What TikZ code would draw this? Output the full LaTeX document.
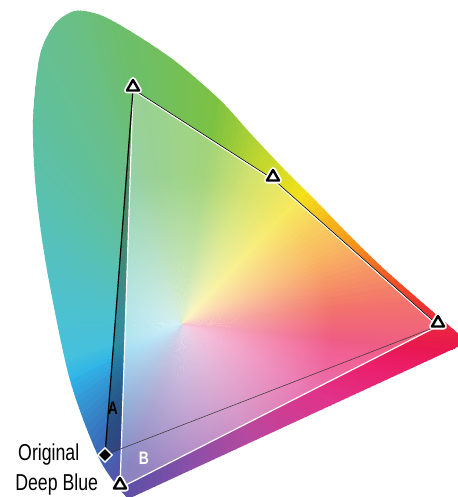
\documentclass[tikz,border=0pt]{standalone}
\usepackage{fontspec}
\setmainfont{Liberation Sans}
\newfontfamily\narrowfont[FakeStretch=0.77]{Liberation Sans}
\usetikzlibrary{shapes.geometric,fadings,positioning}

\definecolor{hcrimson}{HTML}{E8174F}
\definecolor{hrose}{HTML}{EC1E6A}
\definecolor{hpink}{HTML}{E0338A}
\definecolor{hmagenta}{HTML}{B8489E}
\definecolor{hviolet}{HTML}{8A4FA8}
\definecolor{hindigo}{HTML}{5A4FA6}
\definecolor{hblue}{HTML}{3A6CB8}
\definecolor{hsky}{HTML}{2FB5E8}
\definecolor{hcyan}{HTML}{45C0DD}
\definecolor{haqua}{HTML}{52C1C6}
\definecolor{hteal}{HTML}{58C1B4}
\definecolor{hsea}{HTML}{5EC0A2}
\definecolor{hmint}{HTML}{6ABF86}
\definecolor{hleaf}{HTML}{6DBE6A}
\definecolor{hgreen}{HTML}{7CC242}
\definecolor{hlime}{HTML}{BFD630}
\definecolor{hyellow}{HTML}{F4E11A}
\definecolor{horange}{HTML}{F7941D}
\definecolor{hred}{HTML}{EE3A2B}

\tikzfading[name=glow, inner color=transparent!0, outer color=transparent!100]

\begin{document}
\begin{tikzpicture}[x=1pt, y=-1pt,
    tri/.style={regular polygon, regular polygon sides=3, draw=black, fill=white,
        line width=2.4pt, line join=round, minimum size=14pt, inner sep=0pt,
        preaction={draw=white, line width=6pt}},
    dia/.style={diamond, draw=white, fill=black, line width=1.4pt,
        minimum size=15pt, inner sep=0pt},
    lbl/.style={font=\narrowfont\fontsize{23}{26}\selectfont},
    tag/.style={font=\narrowfont\bfseries\fontsize{18}{20}\selectfont, inner sep=0pt}]
    \useasboundingbox (0,0) rectangle (457,497);

    \coordinate (w) at (182,324);
    \coordinate (g) at (133,90);
    \coordinate (m) at (273,180);
    \coordinate (r) at (438,326);
    \coordinate (db) at (120,488);
    \coordinate (o) at (105,455);
    \coordinate (ia) at (intersection of o--r and db--g);

    \begin{scope}
        \clip plot[smooth] coordinates {(128,499) (100,460) (70,380) (47,270) (36,190)
            (33,120) (40,55) (55,24) (75,11) (100,15) (130,31) (175,61) (220,100)
            (250,133) (283,168) (317,202) (350,236) (383,268) (417,298) (468,342)} -- cycle;
        % abanico de colores alrededor del punto blanco
        \foreach \a/\c [remember=\a as \pa (initially 5), remember=\c as \pc (initially hcrimson)]
            in {5/hcrimson, 11/hrose, 26/hpink, 57/hmagenta, 86/hviolet, 109/hindigo,
                123/hblue, 153/hsky, 163/hcyan, 199/haqua, 218/hteal, 232/hsea,
                250/hmint, 258/hleaf, 278/hgreen, 294/hlime, 312/hyellow,
                334/horange, 353/hred, 365/hcrimson} {
            \foreach \i in {0,...,11} {
                \pgfmathsetmacro\s{\pa+(\a-\pa)*\i/12}
                \pgfmathsetmacro\e{\pa+(\a-\pa)*(\i+1)/12+0.4}
                \pgfmathtruncatemacro\p{100*\i/12}
                \fill[\c!\p!\pc] (w) -- +(\s:700) -- +(\e:700) -- cycle;
            }
        }
        \fill[black, fill opacity=.28] (o) -- (g) -- (ia) -- cycle;
        \begin{scope}
            \clip (db) -- (g) -- (m) -- (r) -- cycle;
            \fill[white, fill opacity=.3] (db) -- (g) -- (m) -- (r) -- cycle;
            \fill[white, fill opacity=.65, path fading=glow] (w) circle (150);
        \end{scope}
    \end{scope}

    \draw[white, line width=1.2pt] (r) -- (db) -- (g);
    \draw[black!80, line width=.5pt] (o) -- (r);
    \draw[black, line width=1.2pt] (o) -- (g);
    \draw[white, line width=1.6pt] (g) -- (m) -- (r);
    \draw[black, line width=.6pt] ([yshift=.9pt]g) -- ([yshift=.9pt]m) -- ([yshift=.9pt]r);

    \node[tri] (gm) at ([yshift=3pt]g) {};
    \node[tri] (mm) at ([yshift=3pt]m) {};
    \node[tri] (rm) at ([yshift=3pt]r) {};
    \node[tri] (dbm) at ([yshift=3pt]db) {};
    \node[dia] (om) at (o) {};

    \node[lbl, left=14pt of om] (orig) {Original};
    \node[lbl, left=13pt of dbm] (deep) {Deep Blue};
    \node[tag] (a) at (113,408) {A};
    \node[tag, text=white] (b) at (144,458) {B};
\end{tikzpicture}
\end{document}
